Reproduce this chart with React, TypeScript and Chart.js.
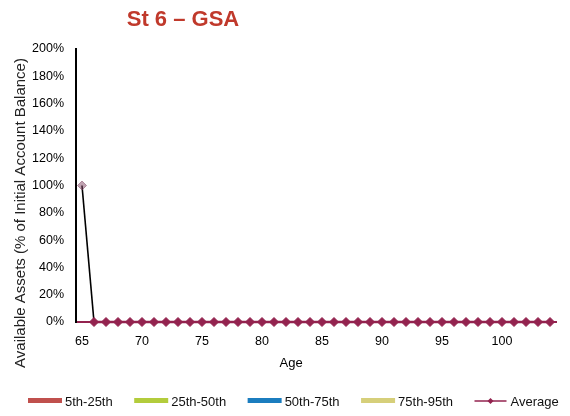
import React, { useEffect, useRef } from "react";
import { Chart, registerables } from "chart.js";

Chart.register(...registerables);

const TITLE = "St 6 \u2013 GSA";
const X_TITLE = "Age";
const Y_TITLE = "Available Assets (% of Initial Account Balance)";

const AGES: number[] = [
  65, 66, 67, 68, 69, 70, 71, 72, 73, 74, 75, 76, 77, 78, 79, 80, 81, 82, 83, 84,
  85, 86, 87, 88, 89, 90, 91, 92, 93, 94, 95, 96, 97, 98, 99, 100, 101, 102, 103, 104,
];

const AVERAGE: number[] = [
  1.0, 0, 0, 0, 0, 0, 0, 0, 0, 0, 0, 0, 0, 0, 0, 0, 0, 0, 0, 0,
  0, 0, 0, 0, 0, 0, 0, 0, 0, 0, 0, 0, 0, 0, 0, 0, 0, 0, 0, 0,
];

const BAND_NAMES: string[] = ["5th-25th", "25th-50th", "50th-75th", "75th-95th"];
const BAND_COLORS: string[] = ["#c0504d", "#b3cc3c", "#1b7dbf", "#d6cf7a"];
const BAND_5_25: number[] = AGES.map(() => 0);
const BAND_25_50: number[] = AGES.map(() => 0);
const BAND_50_75: number[] = AGES.map(() => 0);
const BAND_75_95: number[] = AGES.map(() => 0);
const AVERAGE_NAME = "Average";
const AVERAGE_COLOR = "#93234f";

const Y_MAX = 2;
const Y_STEP = 0.2;

const FONT = '"Liberation Sans", Arial, sans-serif';

const overlayPlugin = {
  id: "overlay",
  afterDraw(chart: any) {
    const ctx = chart.ctx as CanvasRenderingContext2D;
    const area = chart.chartArea;
    ctx.save();
    // title
    ctx.fillStyle = "#c0392b";
    ctx.font = `bold 22px ${FONT}`;
    ctx.textAlign = "center";
    ctx.textBaseline = "middle";
    ctx.fillText(TITLE, 183, 20);

    // x title
    ctx.fillStyle = "#000";
    ctx.font = `13px ${FONT}`;
    ctx.fillText(X_TITLE, area.left + (area.right - area.left) * 0.448, 363);

    // y title
    ctx.save();
    ctx.translate(21, 213);
    ctx.rotate(-Math.PI / 2);
    ctx.font = `15px ${FONT}`;
    ctx.fillStyle = "#222";
    ctx.fillText(Y_TITLE, 0, 0);
    ctx.restore();

    // legend
    ctx.font = `13px ${FONT}`;
    ctx.textAlign = "left";
    const y = 401;
    let x = 28;
    const sw = 34;
    BAND_NAMES.forEach((name, i) => {
      ctx.fillStyle = BAND_COLORS[i];
      ctx.fillRect(x, y - 3, sw, 5);
      x += sw + 3;
      ctx.fillStyle = "#111";
      ctx.fillText(name, x, y + 1);
      x += ctx.measureText(name).width + 21.5;
    });
    ctx.strokeStyle = AVERAGE_COLOR;
    ctx.lineWidth = 1.5;
    ctx.beginPath();
    ctx.moveTo(x, y);
    ctx.lineTo(x + sw - 2, y);
    ctx.stroke();
    const cx = x + 16;
    ctx.fillStyle = AVERAGE_COLOR;
    ctx.beginPath();
    ctx.moveTo(cx, y - 3);
    ctx.lineTo(cx + 3, y);
    ctx.lineTo(cx, y + 3);
    ctx.lineTo(cx - 3, y);
    ctx.closePath();
    ctx.fill();
    x += sw + 2;
    ctx.fillStyle = "#111";
    ctx.fillText(AVERAGE_NAME, x, y + 1);
    ctx.restore();
  },
};

export default function App() {
  const ref = useRef<HTMLCanvasElement | null>(null);

  useEffect(() => {
    document.body.style.margin = "0";
    if (!ref.current) return;
    const bands = [BAND_5_25, BAND_25_50, BAND_50_75, BAND_75_95];
    const chart = new Chart(ref.current, {
      type: "line",
      data: {
        labels: AGES.map(String),
        datasets: [
          ...bands.map((d, i) => ({
            label: BAND_NAMES[i],
            data: d,
            borderColor: BAND_COLORS[i],
            backgroundColor: BAND_COLORS[i],
            borderWidth: 0,
            pointRadius: 0,
            fill: false,
          })),
          {
            label: AVERAGE_NAME,
            data: AVERAGE,
            clip: false,
            borderColor: AVERAGE_COLOR,
            backgroundColor: AVERAGE_COLOR,
            borderWidth: 2.5,
            pointStyle: "rectRot",
            pointRadius: 4.5,
            pointBorderWidth: 1,
            pointBorderColor: AVERAGE.map((_, i) => (i === 0 ? "rgba(130,70,100,0.5)" : AVERAGE_COLOR)),
            pointBackgroundColor: AVERAGE.map((_, i) => (i === 0 ? "rgba(130,70,100,0.5)" : AVERAGE_COLOR)),
            segment: {
              borderColor: (c: any) => (c.p0DataIndex === 0 ? "#000" : AVERAGE_COLOR),
              borderWidth: (c: any) => (c.p0DataIndex === 0 ? 1.6 : 2.5),
            },
            fill: false,
          } as any,
        ],
      },
      options: {
        animation: false,
        responsive: true,
        maintainAspectRatio: false,
        layout: { padding: { top: 49, right: 14, left: 0, bottom: 0 } },
        plugins: {
          legend: { display: false },
          title: { display: false },
          tooltip: { enabled: false },
        },
        scales: {
          x: {
            type: "category",
            offset: true,
            grid: { display: false, drawTicks: false },
            border: { display: true, color: AVERAGE_COLOR, width: 2 },
            ticks: {
              autoSkip: false,
              maxRotation: 0,
              padding: 12,
              color: "#000",
              font: { family: FONT, size: 12.5 },
              callback: (_v: any, i: number) => (AGES[i] % 5 === 0 ? String(AGES[i]) : ""),
            },
            afterFit: (s: any) => {
              s.height = 94;
            },
          },
          y: {
            min: 0,
            max: Y_MAX,
            grid: { display: false, drawTicks: false },
            border: { display: true, color: "#000", width: 2 },
            ticks: {
              stepSize: Y_STEP,
              padding: 12,
              color: "#000",
              font: { family: FONT, size: 12.5 },
              callback: (v: any) => `${Math.round(Number(v) * 100)}%`,
            },
            afterFit: (s: any) => {
              s.width = 76;
            },
          },
        },
      },
      plugins: [overlayPlugin],
    });
    return () => chart.destroy();
  }, []);

  return (
    <div style={{ width: 570, height: 416, position: "relative", background: "#fff" }}>
      <canvas ref={ref} />
    </div>
  );
}
